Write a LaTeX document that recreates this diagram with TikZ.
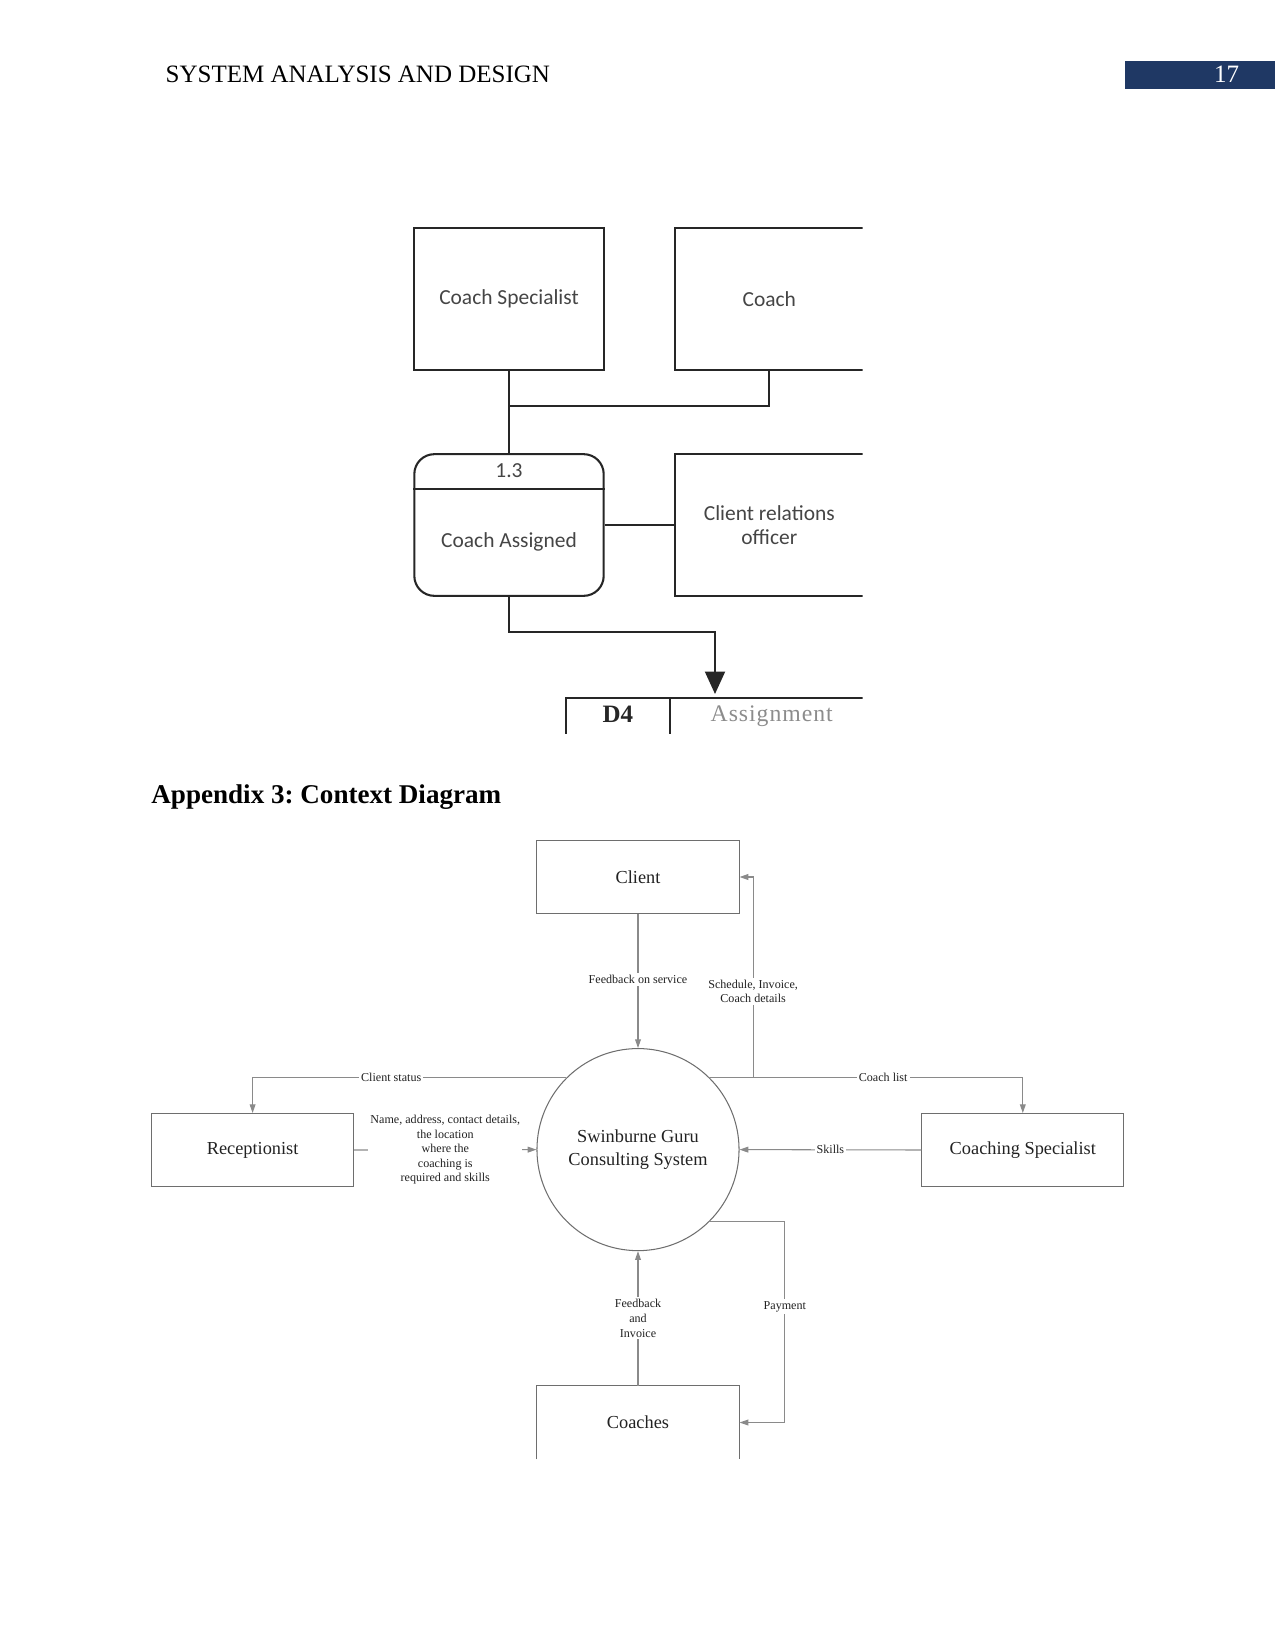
\documentclass[tikz,border=0pt]{standalone}
\usepackage{fontspec}
\setmainfont{Liberation Serif}
\newfontfamily\dfdfont{Carlito}
\newfontfamily\storefont[LetterSpace=4]{Liberation Serif}
\usepackage{xcolor}
\usetikzlibrary{arrows.meta,positioning,calc}
\frenchspacing

\definecolor{headblue}{HTML}{1F3864}
\definecolor{boxcol}{HTML}{6E6E6E}
\definecolor{linecol}{HTML}{8A8A8A}
\definecolor{textcol}{HTML}{222222}
\definecolor{dfdcol}{HTML}{262626}
\definecolor{dfdtextcol}{HTML}{454545}
\definecolor{storecol}{HTML}{8C8C8C}

\begin{document}
\begin{tikzpicture}[
  x=0.48pt, y=-0.48pt,
  >={Triangle[length=4.2pt,width=2.8pt]},
  dfdbox/.style={draw=dfdcol, line width=1pt, minimum width=90.9pt, minimum height=68pt, inner sep=0pt,
    font=\dfdfont\fontsize{10.3}{11.7}\selectfont, text=dfdtextcol, align=center},
  dfdtext/.style={inner sep=0pt, font=\dfdfont\fontsize{10.3}{11.7}\selectfont, text=dfdtextcol},
  dfdedge/.style={draw=dfdcol, line width=1pt},
  entity/.style={draw=boxcol, line width=0.5pt, minimum width=97pt, minimum height=35pt, inner sep=0pt,
    font=\fontsize{8.8}{10.6}\selectfont, text=textcol, align=center},
  flow/.style={->, draw=linecol, line width=0.5pt},
  lbl/.style={fill=white, inner sep=1pt, font=\fontsize{5.8}{7}\selectfont, text=textcol, align=center}
]
\useasboundingbox (0,0) rectangle (1275,1651);

% Page header
\node[anchor=base west, inner sep=0pt, font=\fontsize{12}{14}\selectfont] (runhead) at (165.3,83) {SYSTEM ANALYSIS AND DESIGN};
\fill[headblue] (1125,61) rectangle (1275,89);
\node[anchor=base, inner sep=0pt, text=white, font=\fontsize{12}{14}\selectfont] (pageno) at (1226.7,83) {17};

% Level 1 diagram (cropped)
\begin{scope}
\clip (380,200) rectangle (862.5,733);
\node[dfdbox] (cspec1) at (509,299) {Coach Specialist};
\node[dfdbox] (coach1) at (769.3,299) {Coach};
\node[dfdbox, rounded corners=9.6pt] (proc) at (509,525) {};
\coordinate (hdr) at (509,489.3);
\draw[dfdedge] (proc.west |- hdr) -- (proc.east |- hdr);
\node[dfdtext] (procid) at (509,471) {1.3};
\node[dfdtext] (procname) at (509,542) {Coach Assigned};
\node[dfdbox] (cro) at (769.3,525) {Client relations\\officer};

\coordinate (junc) at (509,405.7);
\draw[dfdedge] (cspec1.south) -- (proc.north);
\draw[dfdedge] (coach1.south) |- (junc);
\draw[dfdedge] (proc.east) -- (cro.west);

% data store D4
\coordinate (storetop) at (715,694);
\draw[dfdedge, -{Triangle[length=10.8pt,width=9.6pt]}] (proc.south) -- ++(0,35.5) -| (storetop);
\draw[dfdedge] (565.7,745) -- (565.7,698.3) -- (880,698.3);
\draw[dfdedge] (670,698.3) -- (670,745);
\node[inner sep=0pt, text=dfdcol, font=\bfseries\fontsize{12}{14}\selectfont] (d4) at (617.8,714) {D4};
\node[inner sep=0pt, text=storecol, font=\storefont\fontsize{11.4}{13}\selectfont] (storename) at (771.7,716) {Assignment};
\end{scope}

% Heading
\node[anchor=base west, inner sep=0pt, font=\bfseries\fontsize{13}{15}\selectfont] (apphead) at (151,803.3) {Appendix 3: Context Diagram};

% Context diagram
\node[entity] (client) at (638,877) {Client};
\node[entity, circle, minimum size=97pt] (sys) at (638,1149.6) {Swinburne Guru\\Consulting System};
\node[entity] (recep) at (252.6,1150) {Receptionist};
\node[entity] (cspec) at (1022.8,1150) {Coaching Specialist};
\node[entity, draw=none] (coaches) at (638,1422.5) {Coaches};
\draw[draw=boxcol, line width=0.5pt] (coaches.south west) -- (coaches.north west) -- (coaches.north east) -- (coaches.south east);

% Flows
\draw[flow] (client.south) -- (sys.north) node[lbl, pos=0.49] {Feedback on service};
\draw[flow] (sys.north east) -- ++(43.3,0) |- (client.east) node[lbl, pos=0.215] {Schedule, Invoice,\\Coach details};
\draw[flow] (sys.north east) -| (cspec.north) node[lbl, pos=0.277] {Coach list};
\draw[flow] (sys.north west) -| (recep.north) node[lbl, pos=0.279] {Client status};
\draw[flow] (recep.east) -- (sys.west) node[lbl, midway] {Name, address, contact details,\\the location\\where the\\coaching is\\required and skills};
\draw[flow] (cspec.west) -- (sys.east) node[lbl, midway] {Skills};
\draw[flow] (coaches.north) -- (sys.south) node[lbl, midway] {Feedback\\and\\Invoice};
\draw[flow] (sys.south east) -- ++(75,0) |- (coaches.east) node[lbl, pos=0.212] {Payment};

\end{tikzpicture}
\end{document}
